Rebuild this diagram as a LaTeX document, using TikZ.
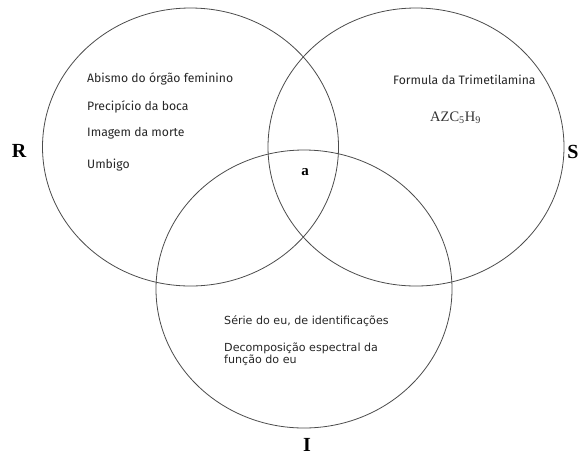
\documentclass[tikz,border=0pt]{standalone}
\usepackage{fontspec}
\setmainfont{Liberation Serif}
\newfontfamily\upfont{Fira Sans}
\newfontfamily\lowfont{DejaVu Sans}
\usetikzlibrary{shapes.geometric}
\begin{document}
\begin{tikzpicture}[x=1pt,y=-1pt,
  ring/.style={draw=black!70, line width=0.8pt, ellipse, inner sep=0pt, minimum width=296pt, minimum height=278pt},
  uptxt/.style={anchor=west, inner sep=0pt, font=\upfont\fontsize{12.2}{14}\selectfont, text=black!85},
  lowtxt/.style={anchor=west, inner sep=0pt, font=\lowfont\fontsize{11.1}{12.5}\selectfont, text=black!85, align=left},
  big/.style={inner sep=0pt, font=\bfseries\fontsize{20}{22}\selectfont}]
\useasboundingbox (0,0) rectangle (580,456);
\fill[white] (0,0) rectangle (580,456);
\node[ring] (cR) at (190.5,147) {};
\node[ring] (cS) at (416,147) {};
\node[ring] (cI) at (304,289) {};
\node[big] (lR) at (19,151) {R};
\node[big] (lS) at (573,152) {S};
\node[big] (lI) at (307,444.5) {I};
\node[big, font=\bfseries\fontsize{15}{16}\selectfont] (la) at (305,172) {a};
\node[uptxt] (t1) at (87,79) {Abismo do órgão feminino};
\node[uptxt] (t2) at (87,107) {Precipício da boca};
\node[uptxt] (t3) at (87,133) {Imagem da morte};
\node[uptxt] (t4) at (87,165) {Umbigo};
\node[uptxt] (t5) at (393,80) {Formula da Trimetilamina};
\node[anchor=west, inner sep=0pt, font=\fontsize{14.5}{16}\selectfont, text=black!80] (t6) at (430,118) {AZC\textsubscript{5}H\textsubscript{9}};
\node[lowtxt] (t7) at (224,321) {Série do eu, de identificações};
\node[lowtxt] (t8) at (224,354) {Decomposição espectral da\\função do eu};
\end{tikzpicture}
\end{document}
